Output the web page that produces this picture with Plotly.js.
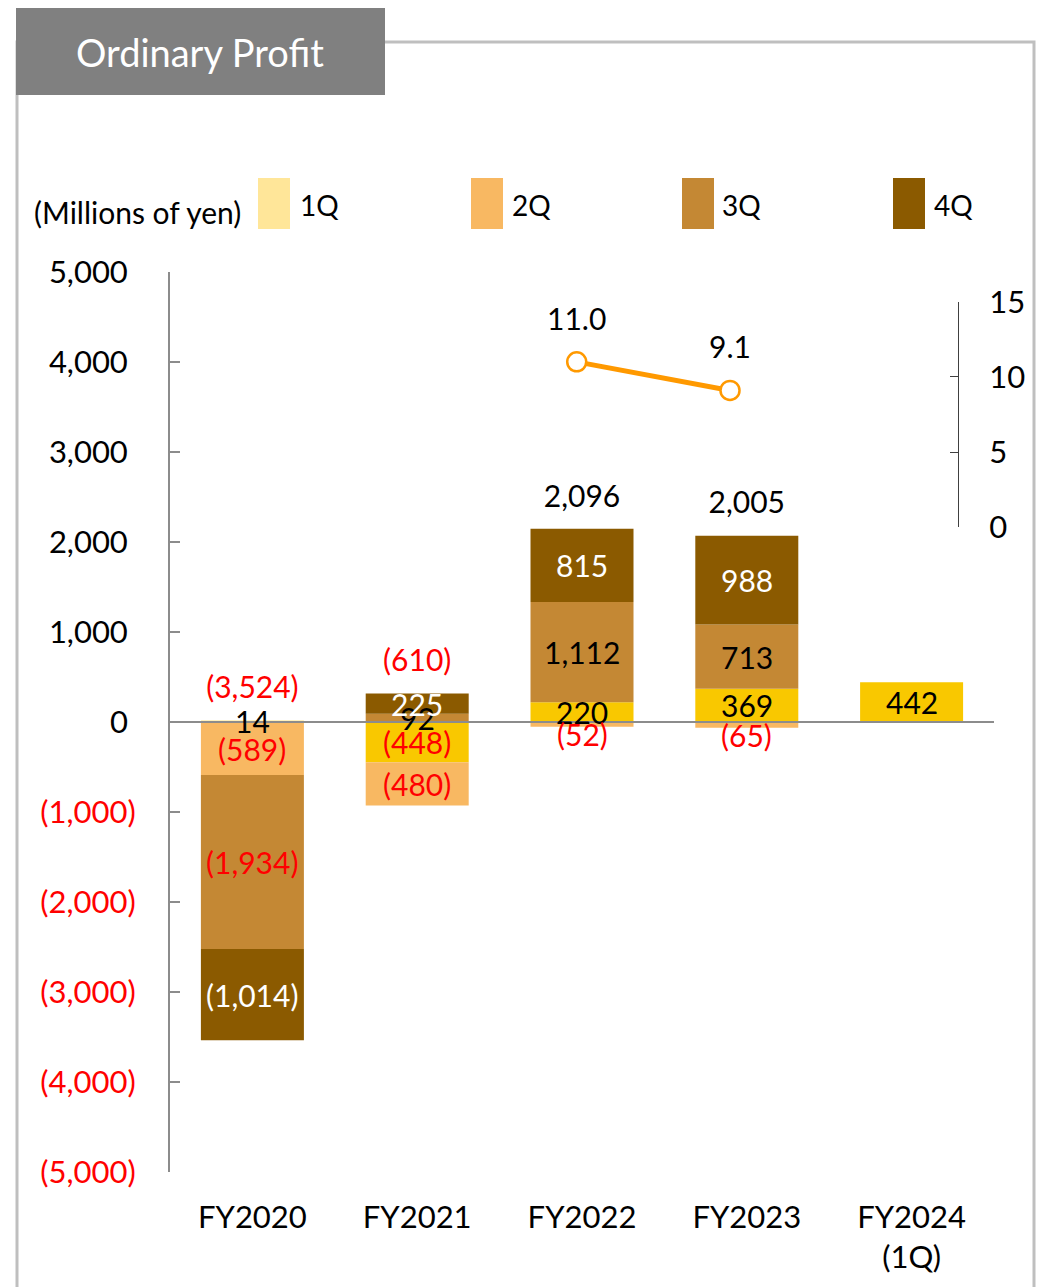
<!DOCTYPE html>
<html>
<head>
<meta charset="utf-8">
<script src="https://cdn.plot.ly/plotly-3.0.1.min.js"></script>
<style>html,body{margin:0;padding:0;background:#fff;}#chart{width:1042px;height:1287px;}</style>
</head>
<body>
<div id="chart"></div>
<script>
// ---------- data ----------
const categories = ['FY2020', 'FY2021', 'FY2022', 'FY2023', 'FY2024'];
const tickLabels = ['FY2020', 'FY2021', 'FY2022', 'FY2023', 'FY2024<br>(1Q)'];
const q1 = [14, -448, 220, 369, 442];
const q2 = [-589, -480, -52, -65, null];
const q3 = [-1934, 92, 1112, 713, null];
const q4 = [-1014, 225, 815, 988, null];
const totals = [-3524, -610, 2096, 2005, null];
const marginCats = ['FY2022', 'FY2023'];
const marginVals = [11.0, 9.1];
const quarterNames = ['1Q', '2Q', '3Q', '4Q'];
const yTickVals = [5000, 4000, 3000, 2000, 1000, 0, -1000, -2000, -3000, -4000, -5000];
const y2TickVals = [0, 5, 10, 15];

// ---------- style ----------
const FONT = 'Lato, "Open Sans", sans-serif';
const FS = 30;      // data labels
const TFS = 31;     // axis tick labels
const barColors = ['#F9C800', '#F8B862', '#C48834', '#8B5A00'];
const legendColors = ['#FFE699', '#F8B862', '#C48834', '#8B5A00'];
const RED = '#FF0000';

function fmt(v) {
  const s = Math.abs(v).toLocaleString('en-US');
  return v < 0 ? '(' + s + ')' : s;
}
function tickFmt(v) {
  const s = Math.abs(v).toLocaleString('en-US');
  return v < 0 ? '<span style="color:' + RED + '">(' + s + ')</span>' : s + '\u00A0';
}

const series = [q1, q2, q3, q4];
const traces = series.map((vals, qi) => ({
  type: 'bar',
  name: quarterNames[qi],
  x: categories,
  y: vals,
  marker: {color: barColors[qi]},
  hoverinfo: 'skip',
  showlegend: false
}));

// ---------- layout decorations ----------
const W = 824, H = 900, L = 170, T = 272;
const px = x => (x - L) / W;
const py = y => (T + H - y) / H;

const annotations = [
  {xref: 'paper', yref: 'paper', x: px(200), y: py(52), text: 'Ordinary Profit', showarrow: false,
   xanchor: 'center', yanchor: 'middle', font: {family: FONT, size: 38, color: '#FFFFFF'}},
  {xref: 'paper', yref: 'paper', x: px(32), y: py(212), text: '(Millions of yen)', showarrow: false,
   xanchor: 'left', yanchor: 'middle', font: {family: FONT, size: 30, color: '#000000'}}
];

// segment labels follow the relative stacking of the bars
const posBase = categories.map(() => 0);
const negBase = categories.map(() => 0);
series.forEach((vals, qi) => {
  vals.forEach((v, i) => {
    if (v == null) return;
    const base = v >= 0 ? posBase[i] : negBase[i];
    const small = qi === 1 && Math.abs(v) < 100;
    annotations.push({
      xref: 'x', yref: 'y', x: categories[i], y: small ? base + v : base + v / 2,
      yshift: small ? -7 : 0,
      text: fmt(v), showarrow: false, xanchor: 'center', yanchor: 'middle',
      font: {family: FONT, size: FS, color: qi === 3 ? '#FFFFFF' : (v < 0 ? RED : '#000000')}
    });
    if (v >= 0) posBase[i] += v; else negBase[i] += v;
  });
});

// totals placed above the positive stack top
const totIdx = totals.map((t, i) => t == null ? -1 : i).filter(i => i >= 0);
traces.push({
  type: 'scatter',
  mode: 'markers+text',
  x: totIdx.map(i => categories[i]),
  y: totIdx.map(i => posBase[i]),
  text: totIdx.map(i => fmt(totals[i])),
  textposition: 'top center',
  marker: {size: 22, opacity: 0},
  textfont: {family: FONT, size: FS, color: totIdx.map(i => totals[i] < 0 ? RED : '#000000')},
  cliponaxis: false,
  hoverinfo: 'skip',
  showlegend: false
});

// margin line (secondary axis)
traces.push({
  type: 'scatter',
  mode: 'lines+markers',
  x: marginCats,
  y: marginVals,
  xaxis: 'x2', yaxis: 'y2',
  line: {color: '#FF9900', width: 5},
  marker: {size: 19, color: '#FFFFFF', line: {color: '#FF9900', width: 2.5}},
  cliponaxis: false,
  hoverinfo: 'skip',
  showlegend: false
});
traces.push({
  type: 'scatter',
  mode: 'markers+text',
  x: marginCats,
  y: marginVals,
  xaxis: 'x2', yaxis: 'y2',
  text: marginVals.map(v => v.toFixed(1)),
  textposition: 'top center',
  marker: {size: 38, opacity: 0},
  textfont: {family: FONT, size: FS, color: '#000000'},
  cliponaxis: false,
  hoverinfo: 'skip',
  showlegend: false
});

const shapes = [
  {type: 'rect', xref: 'paper', yref: 'paper', x0: px(17), x1: px(1034), y0: py(1310), y1: py(42),
   line: {color: '#BFBFBF', width: 3}, fillcolor: 'rgba(0,0,0,0)', layer: 'below'},
  {type: 'rect', xref: 'paper', yref: 'paper', x0: px(16), x1: px(385), y0: py(95), y1: py(8),
   line: {width: 0}, fillcolor: '#808080', layer: 'above'},
  {type: 'line', xref: 'paper', yref: 'y', x0: 0, x1: 1, y0: 0, y1: 0,
   line: {color: '#8C8C8C', width: 2}, layer: 'above'}
];
const swatchX = [258, 471, 682, 893];
const labelX = [298, 510, 720, 932];
quarterNames.forEach((n, i) => {
  shapes.push({type: 'rect', xref: 'paper', yref: 'paper', x0: px(swatchX[i]), x1: px(swatchX[i] + 32),
    y0: py(229), y1: py(178), line: {width: 0}, fillcolor: legendColors[i]});
  annotations.push({xref: 'paper', yref: 'paper', x: px(labelX[i]), y: py(205), text: n, showarrow: false,
    xanchor: 'left', yanchor: 'middle', font: {family: FONT, size: 28, color: '#000000'}});
});

const layout = {
  width: 1042, height: 1287,
  margin: {l: L, r: 1042 - L - W, t: T, b: 1287 - T - H, pad: 0},
  paper_bgcolor: '#FFFFFF', plot_bgcolor: 'rgba(0,0,0,0)',
  barmode: 'relative',
  bargap: 0.375,
  font: {family: FONT, size: FS, color: '#000000'},
  showlegend: false,
  xaxis: {
    type: 'category', range: [-0.5, 4.5], domain: [0, 1],
    tickvals: categories, ticktext: tickLabels,
    showline: false, ticks: '', showgrid: false, zeroline: false,
    ticklabelstandoff: 24,
    tickfont: {family: FONT, size: TFS, color: '#000000'}
  },
  yaxis: {
    range: [-5000, 5000],
    tickvals: yTickVals, ticktext: yTickVals.map(tickFmt),
    showline: true, linecolor: '#8C8C8C', linewidth: 2,
    ticks: 'inside', ticklen: 10, tickwidth: 2, tickcolor: '#8C8C8C',
    ticklabelstandoff: 26,
    showgrid: false, zeroline: false,
    tickfont: {family: FONT, size: TFS, color: '#000000'}
  },
  xaxis2: {
    type: 'category', categoryorder: 'array', categoryarray: categories,
    range: [-0.653, 4.722], domain: [0, 1], anchor: 'y2', visible: false
  },
  yaxis2: {
    range: [0, 15], domain: [py(527.3), py(301.7)],
    anchor: 'free', position: px(958), side: 'right',
    tickvals: y2TickVals,
    showline: true, linecolor: '#404040', linewidth: 1,
    ticks: 'inside', ticklen: 8, tickcolor: '#404040', tickwidth: 1,
    ticklabelstandoff: 24,
    showgrid: false, zeroline: false,
    tickfont: {family: FONT, size: TFS, color: '#000000'}
  },
  shapes: shapes,
  annotations: annotations
};

Plotly.newPlot('chart', traces, layout, {displayModeBar: false, staticPlot: true});
</script>
</body>
</html>
